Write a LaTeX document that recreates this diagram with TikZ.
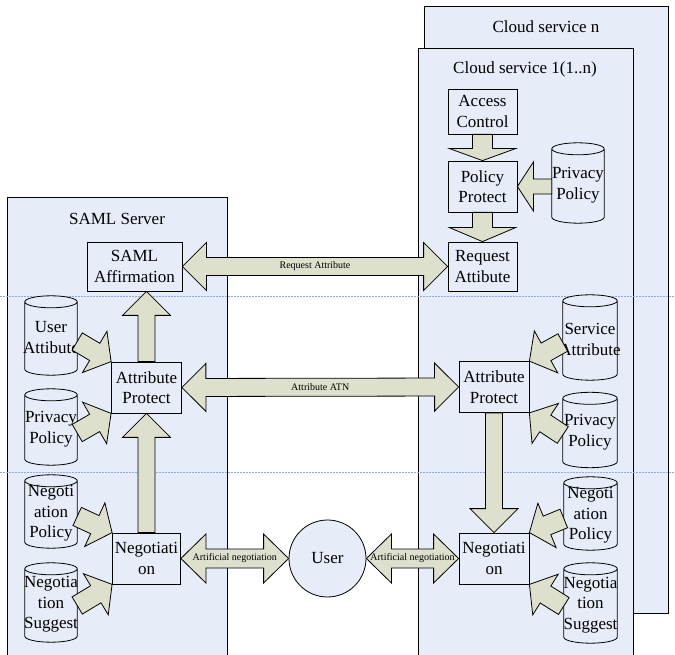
\documentclass[tikz,border=0pt]{standalone}
\usepackage{fontspec}
\setmainfont{Liberation Serif}
\usetikzlibrary{calc}

\definecolor{panelblue}{RGB}{230,237,248}
\definecolor{arrowgreen}{RGB}{221,224,204}
\definecolor{guideblue}{RGB}{140,170,222}

\tikzset{
  fat shaft/.store in=\fatshaft, fat head/.store in=\fathead, fat len/.store in=\fatlen,
  fat shaft=9, fat head=24, fat len=24,
  panel/.style={draw=black, line width=0.8pt, fill=panelblue},
  title/.style={inner sep=0pt},
  guide/.style={draw=guideblue, line width=0.9pt, dash pattern=on 2pt off 1pt},
  box/.style={draw=black, line width=0.8pt, fill=panelblue, minimum width=70pt,
    minimum height=51pt, inner sep=1pt, align=center},
  dbbox/.style={inner sep=0pt, minimum width=52pt, minimum height=78pt},
  dbline/.style={draw=black, line width=0.8pt, fill=panelblue},
  dblbl/.style={align=center, inner sep=0pt},
  lbl/.style={font=\fontsize{10}{12}\selectfont, inner sep=0pt},
  % one-headed block arrow from start to target
  single block/.style={draw=black, line width=0.8pt, fill=arrowgreen, to path={
    let \p1=($(\tikztotarget)-(\tikztostart)$), \n1={atan2(\y1,\x1)}, \n2={veclen(\x1,\y1)} in
    ($(\tikztostart)+({\n1+90}:\fatshaft)$)
    -- ($(\tikztostart)+(\n1:{\n2-\fatlen})+({\n1+90}:\fatshaft)$)
    -- ($(\tikztostart)+(\n1:{\n2-\fatlen})+({\n1+90}:\fathead)$)
    -- (\tikztotarget)
    -- ($(\tikztostart)+(\n1:{\n2-\fatlen})+({\n1-90}:\fathead)$)
    -- ($(\tikztostart)+(\n1:{\n2-\fatlen})+({\n1-90}:\fatshaft)$)
    -- ($(\tikztostart)+({\n1-90}:\fatshaft)$) -- cycle}},
  % two-headed block arrow
  double block/.style={draw=black, line width=0.8pt, fill=arrowgreen, to path={
    let \p1=($(\tikztotarget)-(\tikztostart)$), \n1={atan2(\y1,\x1)}, \n2={veclen(\x1,\y1)} in
    (\tikztostart)
    -- ($(\tikztostart)+(\n1:\fatlen)+({\n1+90}:\fathead)$)
    -- ($(\tikztostart)+(\n1:\fatlen)+({\n1+90}:\fatshaft)$)
    -- ($(\tikztostart)+(\n1:{\n2-\fatlen})+({\n1+90}:\fatshaft)$)
    -- ($(\tikztostart)+(\n1:{\n2-\fatlen})+({\n1+90}:\fathead)$)
    -- (\tikztotarget)
    -- ($(\tikztostart)+(\n1:{\n2-\fatlen})+({\n1-90}:\fathead)$)
    -- ($(\tikztostart)+(\n1:{\n2-\fatlen})+({\n1-90}:\fatshaft)$)
    -- ($(\tikztostart)+(\n1:\fatlen)+({\n1-90}:\fatshaft)$)
    -- ($(\tikztostart)+(\n1:\fatlen)+({\n1-90}:\fathead)$) -- cycle}},
  slant/.style={single block, fat shaft=10, fat len=19},
}

% database drum: name, position, width, height, text
\newcommand\drum[5]{%
  \node[dbbox, minimum width=#3, minimum height=#4] (#1) at (#2) {};
  \path[dbline] let \p1=($(#1.north east)-(#1.north west)$), \n1={0.5*\x1} in
    ($(#1.north west)+(0,-6)$) arc[start angle=180, end angle=0, x radius=\n1, y radius=6pt]
    -- ($(#1.south east)+(0,6)$) arc[start angle=0, end angle=-180, x radius=\n1, y radius=6pt] -- cycle
    ($(#1.north west)+(0,-6)$) arc[start angle=180, end angle=360, x radius=\n1, y radius=6pt];
  \node[dblbl] (#1-txt) at ([yshift=-2pt]#1.center) {#5};
}

\begin{document}
\begin{tikzpicture}[x=1pt, y=1pt, font=\fontsize{17}{20.5}\selectfont]
  \useasboundingbox (0,0) rectangle (675,654);

  % service panels
  \draw[panel] (424,41) rectangle (668,648);
  \draw[panel] (418,-2) rectangle (633,606);
  \draw[panel] (7,-2) rectangle (227,457);
  \node[title] (servn) at (546,627) {Cloud service n};
  \node[title] (serv1) at (525,585) {Cloud service 1(1..n)};
  \node[title] (samlsrv) at (117,435) {SAML Server};

  \draw[guide] (0,358) -- (675,358);
  \draw[guide] (0,182) -- (675,182);

  % cloud service side
  \node[box, minimum width=69pt, minimum height=45pt] (accessctl) at (482.5,542.5) {Access\\Control};
  \node[box, minimum width=69pt] (polprot) at (482.5,467.5) {Policy\\Protect};
  \node[box, minimum width=69pt, minimum height=49pt] (reqatt) at (482.5,387.5) {Request\\Attibute};
  \drum{cprivpol}{578,471}{52pt}{80pt}{Privacy\\Policy}
  \node[box] (cattprot) at (494,267) {Attribute\\Protect};
  \drum{servattr}{590,316.5}{54pt}{85pt}{Service\\Attribute}
  \drum{cprivpol2}{590,224}{54pt}{75pt}{Privacy\\Policy}
  \drum{cnegpol}{590.5,140.5}{53pt}{73pt}{Negoti\\ation\\Policy}
  \drum{cnegsug}{590.5,51}{53pt}{80pt}{Negotia\\tion\\Suggest}
  \node[box] (cneg) at (494,95.5) {Negotiati\\on};

  % SAML server side
  \node[box, minimum width=95pt, minimum height=49pt] (samlaff) at (134.5,387.5) {SAML\\Affirmation};
  \drum{userattr}{51,318.5}{52pt}{79pt}{User\\Attibute}
  \node[box] (sattprot) at (146.5,266.5) {Attribute\\Protect};
  \drum{sprivpol}{51,227}{52pt}{76pt}{Privacy\\Policy}
  \drum{snegpol}{51,142.5}{52pt}{73pt}{Negoti\\ation\\Policy}
  \drum{snegsug}{51,51.5}{52pt}{79pt}{Negotia\\tion\\Suggest}
  \node[box, minimum width=68pt] (sneg) at (146.5,95.5) {Negotiati\\on};

  \node[circle, draw=black, line width=0.8pt, fill=panelblue, minimum size=77pt, inner sep=0pt] (user) at (327.5,95.5) {User};

  % arrow ends
  \coordinate (cpp) at (cprivpol.west |- polprot.east);
  \coordinate (saup) at (sattprot.north |- samlaff.south);
  \coordinate (ua) at ($(userattr.east)+(0,-6)$);
  \coordinate (spa) at ($(sprivpol.east)+(0,-6)$);
  \coordinate (snp) at ($(snegpol.east)+(0,-5)$);
  \coordinate (sns) at ($(snegsug.east)+(0,-3)$);
  \coordinate (sva) at ($(servattr.west)+(0,-5)$);
  \coordinate (cpa) at ($(cprivpol2.west)+(0,-5)$);
  \coordinate (cnp) at ($(cnegpol.west)+(0,-5)$);
  \coordinate (cns) at ($(cnegsug.west)+(0,-3)$);

  \draw[single block, fat shaft=10, fat head=33, fat len=12] (accessctl.south) to (polprot.north);
  \draw[single block, fat shaft=10, fat head=33, fat len=14] (polprot.south) to (reqatt.north);
  \draw[single block, fat shaft=7.5, fat head=24.5, fat len=16] (cpp) to (polprot.east);
  \draw[single block, fat shaft=8.5] (cattprot.south) to (cneg.north);
  \draw[single block, fat shaft=8.5] (sneg.north) to (sattprot.south);
  \draw[single block, fat shaft=8.5] (sattprot.north) to (saup);

  \draw[slant] (ua) to (sattprot.north west);
  \draw[slant] (spa) to (sattprot.south west);
  \draw[slant] (snp) to (sneg.north west);
  \draw[slant] (sns) to (sneg.south west);
  \draw[slant] (sva) to (cattprot.north east);
  \draw[slant] (cpa) to (cattprot.south east);
  \draw[slant] (cnp) to (cneg.north east);
  \draw[slant] (cns) to (cneg.south east);

  \draw[double block] (samlaff.east) to (reqatt.west);
  \draw[double block] (sattprot.east) to (cattprot.west);
  \draw[double block, fat shaft=9.5, fat head=24.5, fat len=25] (sneg.east) to (user.west);
  \draw[double block, fat shaft=9.5, fat head=24.5, fat len=25] (user.east) to (cneg.west);

  \node[lbl] (reqlbl) at ($(samlaff.east)!0.5!(reqatt.west)$) {Request Attribute};
  \node[lbl] (atnlbl) at ($(sattprot.east)!0.5!(cattprot.west)$) {Attribute ATN};
  \node[lbl] (artlbl1) at ($(sneg.east)!0.5!(user.west)$) {Artificial negotiation};
  \node[lbl] (artlbl2) at ($(user.east)!0.5!(cneg.west)$) {Artificial negotiation};
\end{tikzpicture}
\end{document}
